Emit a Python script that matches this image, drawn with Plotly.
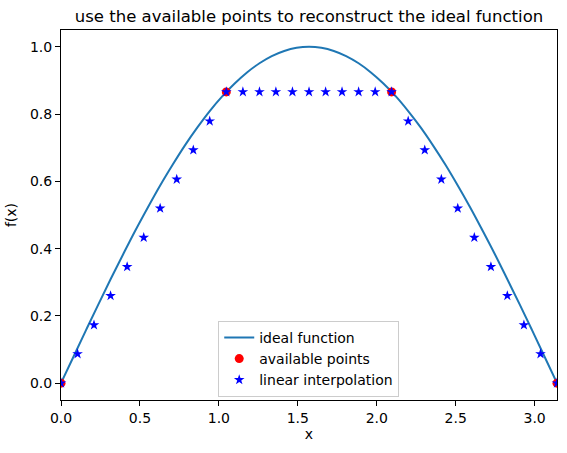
import plotly.graph_objects as go

# ideal function samples
curve_x = [0.0, 0.079, 0.157, 0.236, 0.314, 0.393, 0.471, 0.550, 0.628, 0.707, 0.785,
           0.864, 0.942, 1.021, 1.100, 1.178, 1.257, 1.335, 1.414, 1.492, 1.571,
           1.649, 1.728, 1.806, 1.885, 1.963, 2.042, 2.121, 2.199, 2.278, 2.356,
           2.435, 2.513, 2.592, 2.670, 2.749, 2.827, 2.906, 2.985, 3.063, 3.1416]
curve_y = [0.0, 0.0785, 0.1564, 0.2334, 0.3090, 0.3827, 0.4540, 0.5225, 0.5878, 0.6494, 0.7071,
           0.7604, 0.8090, 0.8526, 0.8910, 0.9239, 0.9511, 0.9724, 0.9877, 0.9969, 1.0,
           0.9969, 0.9877, 0.9724, 0.9511, 0.9239, 0.8910, 0.8526, 0.8090, 0.7604, 0.7071,
           0.6494, 0.5878, 0.5225, 0.4540, 0.3827, 0.3090, 0.2334, 0.1564, 0.0785, 0.0]

# available points
pts_x = [0.0, 1.047, 2.094, 3.1416]
pts_y = [0.0, 0.866, 0.866, 0.0]

# linear interpolation
interp_x = [0.0, 0.105, 0.209, 0.314, 0.419, 0.524, 0.628, 0.733, 0.838, 0.942, 1.047,
            1.152, 1.257, 1.361, 1.466, 1.571, 1.676, 1.780, 1.885, 1.990, 2.094,
            2.199, 2.304, 2.409, 2.513, 2.618, 2.723, 2.827, 2.932, 3.037, 3.1416]
interp_y = [0.0, 0.087, 0.173, 0.260, 0.346, 0.433, 0.520, 0.606, 0.693, 0.779, 0.866,
            0.866, 0.866, 0.866, 0.866, 0.866, 0.866, 0.866, 0.866, 0.866, 0.866,
            0.779, 0.693, 0.606, 0.520, 0.433, 0.346, 0.260, 0.173, 0.087, 0.0]

x_ticks = [0.0, 0.5, 1.0, 1.5, 2.0, 2.5, 3.0]
y_ticks = [0.0, 0.2, 0.4, 0.6, 0.8, 1.0]

fig = go.Figure()
fig.add_trace(go.Scatter(x=curve_x, y=curve_y, mode="lines", name="ideal function",
                         line=dict(color="#1f77b4", width=2, shape="spline"),
                         cliponaxis=True))
fig.add_trace(go.Scatter(x=pts_x, y=pts_y, mode="markers", name="available points",
                         marker=dict(color="red", size=9, symbol="circle"),
                         cliponaxis=True))
fig.add_trace(go.Scatter(x=interp_x, y=interp_y, mode="markers", name="linear interpolation",
                         marker=dict(color="blue", size=8, symbol="star"),
                         cliponaxis=True))

axis_common = dict(showline=True, linecolor="black", linewidth=1, mirror=True,
                   ticks="outside", ticklen=5, tickwidth=1, tickcolor="black",
                   showgrid=False, zeroline=False,
                   tickfont=dict(size=14, color="black", family="DejaVu Sans"))

fig.update_layout(
    width=567, height=453,
    margin=dict(l=61, r=10, t=30, b=53),
    paper_bgcolor="white", plot_bgcolor="white",
    font=dict(family="DejaVu Sans", color="black", size=14),
    title=dict(text="use the available points to reconstruct the ideal function",
               x=(61 + 557) / 2 / 567, xanchor="center", y=1 - 16 / 453, yanchor="middle",
               font=dict(size=16.5, color="black")),
    xaxis=dict(range=[0, 3.1416], tickvals=x_ticks, ticktext=[f"{v:.1f}" for v in x_ticks],
               title=dict(text="x", font=dict(size=14), standoff=4), **axis_common),
    yaxis=dict(range=[-0.05, 1.05], tickvals=y_ticks, ticktext=[f"{v:.1f}" for v in y_ticks],
               title=dict(text="f(x)", font=dict(size=14), standoff=10), **axis_common),
    legend=dict(x=0.317, y=0.214, xanchor="left", yanchor="top",
                bgcolor="white", bordercolor="#cccccc", borderwidth=1,
                font=dict(size=14), tracegroupgap=0, itemwidth=30),
    showlegend=True,
)

fig.write_html("out.html")
